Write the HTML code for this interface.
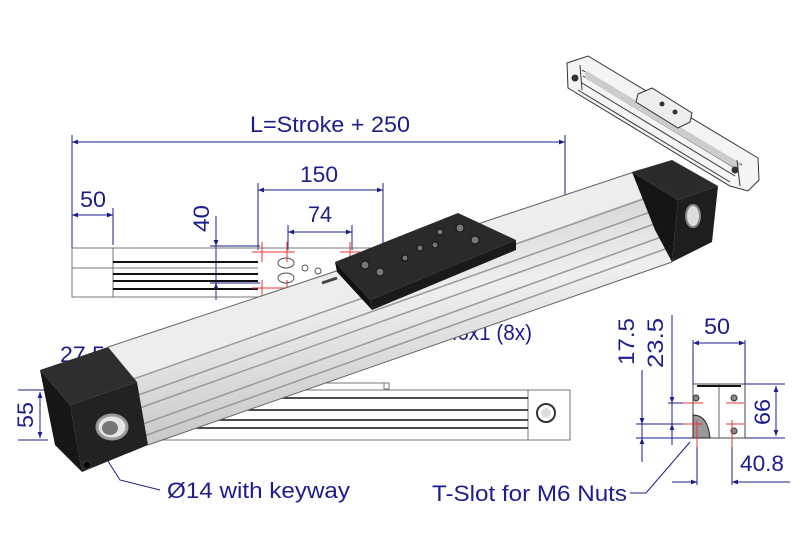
<!DOCTYPE html>
<html><head><meta charset="utf-8"><style>
html,body{margin:0;padding:0;background:#fff;}
svg{display:block;}
text{font-family:"Liberation Sans",sans-serif;fill:#1c1c8f;font-size:22px;}
</style></head><body>
<svg width="800" height="550" viewBox="0 0 800 550" xmlns="http://www.w3.org/2000/svg">
<defs>
<marker id="a" viewBox="0 0 10 10" refX="10" refY="5" markerWidth="8" markerHeight="6" orient="auto-start-reverse"><path d="M0,1 L10,5 L0,9 z" fill="#1c1c8f"/></marker>
<linearGradient id="al" x1="0" y1="0" x2="0.25" y2="1">
<stop offset="0" stop-color="#f4f4f4"/><stop offset="0.3" stop-color="#d6d6d6"/><stop offset="0.55" stop-color="#efefef"/><stop offset="1" stop-color="#c4c4c4"/></linearGradient>
</defs>
<!-- top view -->
<g stroke="#1c1c8f" stroke-width="1" fill="none">
<line x1="72" y1="135" x2="72" y2="297"/><line x1="565" y1="135" x2="565" y2="297"/>
<line x1="72" y1="142" x2="565" y2="142" marker-start="url(#a)" marker-end="url(#a)"/>
<line x1="113" y1="208" x2="113" y2="245"/>
<line x1="72" y1="215" x2="113" y2="215" marker-start="url(#a)" marker-end="url(#a)"/>
<line x1="258" y1="183" x2="258" y2="250"/><line x1="383" y1="183" x2="383" y2="250"/>
<line x1="258" y1="190" x2="383" y2="190" marker-start="url(#a)" marker-end="url(#a)"/>
<line x1="288" y1="225" x2="288" y2="250"/><line x1="352" y1="225" x2="352" y2="250"/>
<line x1="288" y1="232" x2="352" y2="232" marker-start="url(#a)" marker-end="url(#a)"/>
<line x1="216" y1="216" x2="216" y2="300"/>
<line x1="216" y1="230" x2="216" y2="246" marker-end="url(#a)"/>
<line x1="216" y1="300" x2="216" y2="283" marker-end="url(#a)"/>
<line x1="210" y1="246" x2="260" y2="246"/><line x1="210" y1="283" x2="260" y2="283"/>
</g>
<g stroke="#777" stroke-width="1" fill="none">
<rect x="72" y="248" width="493" height="49"/>
<line x1="72" y1="268" x2="258" y2="268"/>
<line x1="113" y1="248" x2="113" y2="297"/>
</g>
<g stroke="#111" stroke-width="2">
<line x1="113" y1="262" x2="258" y2="262"/><line x1="113" y1="274" x2="258" y2="274"/>
<line x1="113" y1="281" x2="258" y2="281"/><line x1="113" y1="289" x2="258" y2="289"/>
</g>
<g stroke="#e33" stroke-width="1">
<line x1="252" y1="252" x2="275" y2="252"/><line x1="262" y1="242" x2="262" y2="262"/>
<line x1="252" y1="288" x2="275" y2="288"/><line x1="262" y1="280" x2="262" y2="300"/>
<line x1="275" y1="252" x2="295" y2="252"/><line x1="287" y1="242" x2="287" y2="262"/>
<line x1="275" y1="288" x2="295" y2="288"/><line x1="287" y1="280" x2="287" y2="300"/>
<line x1="340" y1="252" x2="360" y2="252"/><line x1="350" y1="242" x2="350" y2="262"/>
</g>
<g fill="none" stroke="#555"><ellipse cx="286" cy="263" rx="8" ry="5"/><ellipse cx="286" cy="278" rx="8" ry="5"/><circle cx="305" cy="268" r="3"/><circle cx="318" cy="271" r="3"/></g>
<text x="250" y="132" textLength="160" lengthAdjust="spacingAndGlyphs">L=Stroke + 250</text>
<text x="300" y="182" textLength="38" lengthAdjust="spacingAndGlyphs">150</text>
<text x="308" y="222" textLength="24" lengthAdjust="spacingAndGlyphs">74</text>
<text x="80" y="207" textLength="26" lengthAdjust="spacingAndGlyphs">50</text>
<text x="0" y="0" transform="translate(209,232) rotate(-90)" textLength="27" lengthAdjust="spacingAndGlyphs">40</text>
<text x="440" y="340" textLength="92" lengthAdjust="spacingAndGlyphs">M6x1 (8x)</text>
<text x="60" y="362" textLength="45" lengthAdjust="spacingAndGlyphs">27.5</text>
<text x="0" y="0" transform="translate(33,428) rotate(-90)" textLength="26" lengthAdjust="spacingAndGlyphs">55</text>
<!-- side view -->
<g stroke="#777" fill="none">
<rect x="100" y="390" width="470" height="50"/>
<line x1="528" y1="390" x2="528" y2="440"/>
<line x1="250" y1="383" x2="384" y2="383"/><rect x="384" y="383" width="5" height="6"/>
</g>
<g stroke="#111" stroke-width="1.5"><line x1="150" y1="398" x2="528" y2="398"/><line x1="150" y1="410" x2="528" y2="410"/><line x1="150" y1="420" x2="528" y2="420"/><line x1="150" y1="428" x2="528" y2="428"/></g>
<circle cx="546" cy="413" r="9" fill="none" stroke="#333" stroke-width="2"/><circle cx="546" cy="413" r="5" fill="#ddd"/>
<g stroke="#1c1c8f" fill="none">
<line x1="18" y1="390" x2="48" y2="390"/><line x1="18" y1="440" x2="48" y2="440"/>
<line x1="40" y1="392" x2="40" y2="438" marker-start="url(#a)" marker-end="url(#a)"/>
<polyline points="97,444 120,480 160,490"/>
</g>
<text x="167" y="498" textLength="183" lengthAdjust="spacingAndGlyphs">Ø14 with keyway</text>
<!-- right end view -->
<g stroke="#1c1c8f" fill="none">
<line x1="693" y1="340" x2="693" y2="385"/><line x1="745" y1="340" x2="745" y2="385"/>
<line x1="693" y1="343" x2="745" y2="343" marker-start="url(#a)" marker-end="url(#a)"/>
<line x1="745" y1="384" x2="785" y2="384"/><line x1="745" y1="438" x2="785" y2="438"/>
<line x1="776" y1="386" x2="776" y2="436" marker-start="url(#a)" marker-end="url(#a)"/>
<line x1="642" y1="370" x2="642" y2="462"/><line x1="672" y1="315" x2="672" y2="445"/>
<line x1="636" y1="424" x2="693" y2="424"/><line x1="636" y1="438" x2="693" y2="438"/>
<line x1="668" y1="403" x2="693" y2="403"/>
<line x1="642" y1="410" x2="642" y2="424" marker-end="url(#a)"/>
<line x1="642" y1="452" x2="642" y2="438" marker-end="url(#a)"/>
<line x1="672" y1="390" x2="672" y2="403" marker-end="url(#a)"/>
<line x1="672" y1="438" x2="672" y2="424" marker-end="url(#a)"/>
<line x1="697" y1="440" x2="697" y2="485"/><line x1="732" y1="440" x2="732" y2="485"/>
<line x1="672" y1="482" x2="697" y2="482" marker-end="url(#a)"/>
<line x1="790" y1="482" x2="732" y2="482" marker-end="url(#a)"/>
<polyline points="630,493 646,493 690,442" />
</g>
<rect x="693" y="384" width="52" height="54" fill="#fff" stroke="#444"/>
<line x1="719" y1="384" x2="719" y2="438" stroke="#666"/>
<line x1="697" y1="386" x2="741" y2="386" stroke="#111" stroke-width="2"/>
<g fill="#888" stroke="#333"><circle cx="696" cy="398" r="3"/><circle cx="734" cy="398" r="3"/><circle cx="734" cy="431" r="3"/></g>
<path d="M693,438 L693,415 Q708,415 710,438 Z" fill="#999" stroke="#222"/>
<g stroke="#e33"><line x1="683" y1="403" x2="703" y2="403"/><line x1="683" y1="424" x2="703" y2="424"/><line x1="726" y1="403" x2="744" y2="403"/><line x1="726" y1="424" x2="744" y2="424"/><line x1="697" y1="420" x2="697" y2="447"/><line x1="732" y1="420" x2="732" y2="447"/></g>
<text x="0" y="0" transform="translate(634,365) rotate(-90)" textLength="47" lengthAdjust="spacingAndGlyphs">17.5</text>
<text x="0" y="0" transform="translate(663,368) rotate(-90)" textLength="50" lengthAdjust="spacingAndGlyphs">23.5</text>
<text x="704" y="334" textLength="26" lengthAdjust="spacingAndGlyphs">50</text>
<text x="0" y="0" transform="translate(770,425) rotate(-90)" textLength="26" lengthAdjust="spacingAndGlyphs">66</text>
<text x="740" y="471" textLength="44" lengthAdjust="spacingAndGlyphs">40.8</text>
<text x="432" y="501" textLength="195" lengthAdjust="spacingAndGlyphs">T-Slot for M6 Nuts</text>
<!-- thumbnail -->
<g stroke="#333" stroke-width="1" fill="none">
<polygon points="567,63 588,56 758,158 759,180 748,191 730,186 568,88" fill="#f4f4f4"/>
<line x1="582" y1="70" x2="742" y2="165"/>
<line x1="583" y1="76" x2="738" y2="170"/>
<line x1="582" y1="83" x2="735" y2="176"/>
<line x1="578" y1="90" x2="730" y2="182"/>
<polygon points="585,70 740,163 738,170 585,78" fill="#ccc" stroke="none"/>
<line x1="580" y1="65" x2="582" y2="90"/>
<line x1="737" y1="160" x2="740" y2="186"/>
<polygon points="638,94 652,88 692,113 690,122 678,128 636,102" fill="#eee"/>
<circle cx="575" cy="78" r="3" fill="#333"/><circle cx="735" cy="170" r="3" fill="#333"/>
<circle cx="662" cy="104" r="2" fill="#333"/><circle cx="675" cy="112" r="2" fill="#333"/>
</g>
<!-- main 3D bar -->
<polygon points="108,347 640,170 672,262 148,445" fill="url(#al)"/>
<polygon points="108,347 640,170 650,195 125,382" fill="#ededed"/>
<g stroke="#9a9a9a" stroke-width="1.5">
<line x1="125" y1="382" x2="652" y2="196"/>
<line x1="130" y1="398" x2="656" y2="210"/>
<line x1="134" y1="410" x2="660" y2="222"/>
<line x1="140" y1="425" x2="664" y2="236"/>
<line x1="144" y1="436" x2="668" y2="248"/>
</g>
<g stroke="#666" stroke-width="1"><line x1="108" y1="347" x2="640" y2="170"/><line x1="148" y1="445" x2="672" y2="262"/></g>
<!-- carriage -->
<polygon points="335,262 458,213 516,240 370,300" fill="#2a2a2a"/>
<polygon points="335,262 370,300 372,310 337,272" fill="#111"/>
<polygon points="370,300 516,240 516,250 372,310" fill="#1a1a1a"/>
<line x1="322" y1="283" x2="337" y2="278" stroke="#444" stroke-width="3"/>
<g fill="#777" stroke="#111"><circle cx="365" cy="265" r="4"/><circle cx="380" cy="272" r="4"/><circle cx="405" cy="258" r="3"/><circle cx="420" cy="248" r="3"/><circle cx="435" cy="245" r="3"/><circle cx="440" cy="232" r="3"/><circle cx="460" cy="228" r="4"/><circle cx="475" cy="240" r="4"/></g>
<!-- right cap -->
<polygon points="632,172 672,160 718,186 678,200" fill="#2b2b2b"/>
<polygon points="678,200 718,186 712,242 672,262" fill="#1e1e1e"/>
<polygon points="632,172 678,200 672,262 655,230" fill="#151515"/>
<ellipse cx="693" cy="216" rx="7" ry="11" fill="#ddd" stroke="#888" stroke-width="2"/>
<!-- left cap -->
<polygon points="40,370 108,347 137,382 70,405" fill="#2e2e2e"/>
<polygon points="70,405 137,382 148,445 82,472" fill="#222"/>
<polygon points="40,370 70,405 82,472 55,445" fill="#161616"/>
<ellipse cx="112" cy="427" rx="15" ry="12" fill="#e5e5e5" stroke="#999" stroke-width="3"/>
<ellipse cx="110" cy="428" rx="8" ry="7" fill="#777"/>
<circle cx="87" cy="465" r="4" fill="#000" stroke="#444"/>
</svg>
</body></html>
